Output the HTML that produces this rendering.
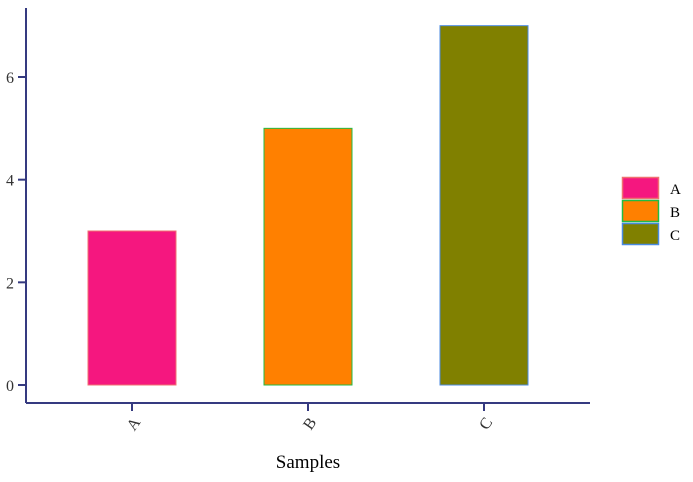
<!DOCTYPE html>
<html><head><meta charset="utf-8"><style>
body{margin:0;background:#fff;}
text{font-family:"Liberation Serif",serif;}
</style></head><body>
<svg id="chart" width="693" height="477" xmlns="http://www.w3.org/2000/svg"></svg>
<script>
const categories=["A","B","C"];
const values=[3,5,7];
const yTicks=[0,2,4,6];
const fills=["#f5177f","#ff8000","#808000"];
const strokes=["#f07070","#22bb44","#4a8ae0"];
const NS="http://www.w3.org/2000/svg";
const svg=document.getElementById("chart");
const axisColor="#353a80";
const y0=385, unit=(385-77)/6;
function y(v){return y0-v*unit;}
function xc(i){return 132+i*176;}
const bw=88;
function mk(tag,attrs,parent){const e=document.createElementNS(NS,tag);for(const k in attrs)e.setAttribute(k,attrs[k]);(parent||svg).appendChild(e);return e;}
// bars
values.forEach((v,i)=>{
 const r=mk("rect",{x:xc(i)-bw/2,y:y(v),width:bw,height:y(0)-y(v),fill:fills[i],stroke:strokes[i],"stroke-width":1});
 
 
});
// y axis
const ya=mk("g",{});


mk("line",{x1:26,y1:8,x2:26,y2:403,stroke:axisColor,"stroke-width":2},ya);
yTicks.forEach(t=>{
 mk("line",{x1:18,y1:y(t),x2:26,y2:y(t),stroke:axisColor,"stroke-width":2},ya);
 const tx=mk("text",{x:14,y:y(t)+6,"text-anchor":"end","font-size":16,fill:"#333"},ya);
 tx.textContent=t;
 
 
});
// x axis
const xa=mk("g",{});


mk("line",{x1:26,y1:403,x2:590,y2:403,stroke:axisColor,"stroke-width":2},xa);
categories.forEach((c,i)=>{
 mk("line",{x1:xc(i),y1:403,x2:xc(i),y2:411,stroke:axisColor,"stroke-width":2},xa);
 const tx=mk("text",{x:xc(i)+6,y:420,"text-anchor":"end","font-size":16,fill:"#333",transform:`rotate(-55 ${xc(i)+6} 420)`,"dominant-baseline":"middle"},xa);
 tx.textContent=c;
 
 
});
const xt=mk("text",{x:308,y:468,"text-anchor":"middle","font-size":19,fill:"#000"});
xt.textContent="Samples";


// legend
const lg=mk("g",{});


categories.forEach((c,i)=>{
 const g=mk("g",{},lg);
 
 
 mk("rect",{x:622.5,y:177.5+i*23,width:36,height:21,fill:fills[i],stroke:strokes[i],"stroke-width":1.5},g);
 const t=mk("text",{x:670,y:194+i*23,"font-size":15,fill:"#000"},g);
 t.textContent=c;
});
</script>
</body></html>
